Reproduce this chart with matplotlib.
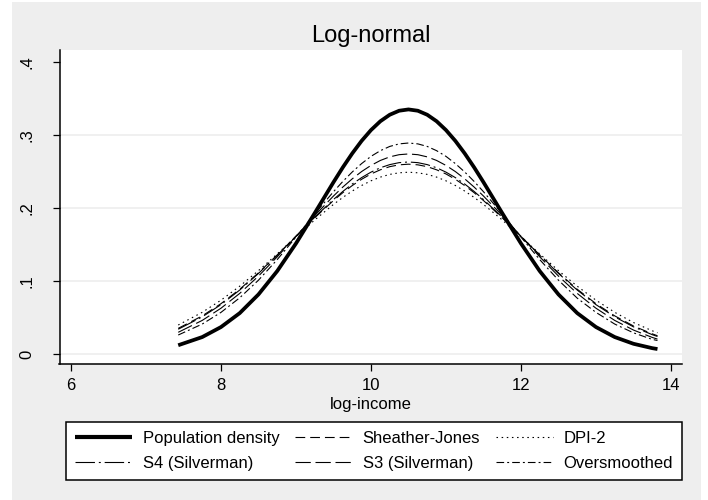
import matplotlib
matplotlib.use("Agg")
import matplotlib.pyplot as plt
from matplotlib.patches import Rectangle

plt.rcParams['font.family'] = ['Liberation Sans', 'DejaVu Sans']
plt.rcParams['lines.scale_dashes'] = False

# ---- data ----
log_income = [7.43, 7.75, 8.0, 8.25, 8.5, 8.75, 9.0, 9.25, 9.5, 9.625, 9.75, 9.875, 10.0, 10.125, 10.25, 10.375, 10.5,
              10.625, 10.75, 10.875, 11.0, 11.125, 11.25, 11.375, 11.5, 11.75, 12.0, 12.25, 12.5, 12.75, 13.0,
              13.25, 13.5, 13.75, 13.82]

population = [0.012, 0.0232, 0.0369, 0.056, 0.0816, 0.1136, 0.1514, 0.193, 0.2353, 0.2557, 0.2747, 0.2919, 0.3067,
              0.3188, 0.3277, 0.3332, 0.335, 0.3332, 0.3277, 0.3188, 0.3067, 0.2919, 0.2747, 0.2557, 0.2353,
              0.193, 0.1514, 0.1136, 0.0816, 0.056, 0.0369, 0.0232, 0.014, 0.008, 0.0068]
sheather_jones = [0.0351, 0.0522, 0.0689, 0.0887, 0.1112, 0.1357, 0.1612, 0.1866, 0.2102, 0.2210, 0.2307, 0.2393,
                  0.2466, 0.2523, 0.2566, 0.2591, 0.26, 0.2591, 0.2566, 0.2523, 0.2466, 0.2393, 0.2307, 0.2210,
                  0.2102, 0.1866, 0.1612, 0.1357, 0.1112, 0.0887, 0.0689, 0.0522, 0.0384, 0.0276, 0.025]
dpi2 = [0.0397, 0.0571, 0.0737, 0.0929, 0.1142, 0.1371, 0.1606, 0.1836, 0.2049, 0.2145, 0.2232, 0.2308, 0.2372,
        0.2423, 0.246, 0.2482, 0.249, 0.2482, 0.246, 0.2423, 0.2372, 0.2308, 0.2232, 0.2145, 0.2049,
        0.1836, 0.1606, 0.1371, 0.1142, 0.0929, 0.0737, 0.0571, 0.0431, 0.0318, 0.0291]
s4_silverman = [0.0339, 0.0509, 0.0676, 0.0876, 0.1103, 0.1352, 0.1613, 0.1873, 0.2116, 0.2227, 0.2328, 0.2416,
                0.2491, 0.2551, 0.2594, 0.2621, 0.263, 0.2621, 0.2594, 0.2551, 0.2491, 0.2416, 0.2328, 0.2227,
                0.2116, 0.1873, 0.1613, 0.1352, 0.1103, 0.0876, 0.0676, 0.0509, 0.0372, 0.0265, 0.024]
s3_silverman = [0.0297, 0.046, 0.0627, 0.083, 0.1067, 0.1331, 0.1612, 0.1896, 0.2164, 0.2287, 0.2399, 0.2499,
                0.2583, 0.2651, 0.27, 0.273, 0.274, 0.273, 0.27, 0.2651, 0.2583, 0.2499, 0.2399, 0.2287,
                0.2164, 0.1896, 0.1612, 0.1331, 0.1067, 0.083, 0.0627, 0.046, 0.0328, 0.0227, 0.0204]
oversmoothed = [0.026, 0.041, 0.057, 0.077, 0.1011, 0.1293, 0.1601, 0.1918, 0.2223, 0.2364, 0.2493, 0.2608,
                0.2707, 0.2785, 0.2843, 0.2878, 0.289, 0.2878, 0.2843, 0.2785, 0.2707, 0.2608, 0.2493, 0.2364,
                0.2223, 0.1918, 0.1601, 0.1293, 0.1011, 0.0765, 0.057, 0.041, 0.029, 0.020, 0.0185]

x_ticks = [6, 8, 10, 12, 14]
x_tick_labels = ["6", "8", "10", "12", "14"]
y_ticks = [0, 0.1, 0.2, 0.3, 0.4]
y_tick_labels = ["0", ".1", ".2", ".3", ".4"]
grid_levels = [0, 0.1, 0.2, 0.3]

W, H = 708, 500
fig = plt.figure(figsize=(W / 100, H / 100), dpi=100)
fig.patch.set_facecolor('white')
fig.patches.append(Rectangle((12 / W, 0), (701 - 12) / W, 498 / H, transform=fig.transFigure,
                             facecolor='#EEEEEE', edgecolor='none', zorder=-10))

ax = fig.add_axes([59.5 / W, 1 - 364 / H, (682 - 59.5) / W, (364 - 50) / H])
ax.set_facecolor('white')

for g in grid_levels:
    ax.axhline(g, color='#ECECEC', lw=1.1, zorder=0)

ax.plot(log_income, sheather_jones, color='black', lw=0.8, dashes=(7, 3.6), label='Sheather-Jones')
ax.plot(log_income, dpi2, color='black', lw=0.8, dashes=(1.1, 2.6), label='DPI-2')
ax.plot(log_income, s4_silverman, color='black', lw=0.8, dashes=(14, 2.8, 1.4, 2.8), label='S4 (Silverman)')
ax.plot(log_income, s3_silverman, color='black', lw=0.8, dashes=(11, 3.4), label='S3 (Silverman)')
ax.plot(log_income, oversmoothed, color='black', lw=0.8, dashes=(5.5, 2.2, 1.4, 2.2), label='Oversmoothed')
ax.plot(log_income, population, color='black', lw=2.7, solid_capstyle='butt', solid_joinstyle='round',
        label='Population density')

ax.set_xlim(5.847, 14.147)
ax.set_ylim(-0.0137, 0.4164)

for s in ['top', 'right']:
    ax.spines[s].set_visible(False)
for s in ['left', 'bottom']:
    ax.spines[s].set_linewidth(1.1)
    ax.spines[s].set_color('black')

ax.set_xticks(x_ticks)
ax.set_xticklabels(x_tick_labels, fontsize=12)
ax.set_yticks(y_ticks)
ax.set_yticklabels(y_tick_labels, fontsize=12, rotation=90, va='center')
ax.tick_params(axis='x', direction='out', length=5, width=0.9, pad=5)
ax.tick_params(axis='y', direction='out', length=5, width=0.9, pad=13)

ax.set_xlabel('log-income', fontsize=12)
ax.xaxis.label.set_va('baseline')
ax.xaxis.set_label_coords(0.5, -(409 - 364) / 314)

ax.set_title('Log-normal', fontsize=17, pad=6)

handles, labels = ax.get_legend_handles_labels()
order = ['Population density', 'Sheather-Jones', 'DPI-2', 'S4 (Silverman)', 'S3 (Silverman)', 'Oversmoothed']
hmap = dict(zip(labels, handles))
# ncol=3 fills column-wise, so reorder to get row-wise reading
col_order = [order[0], order[3], order[1], order[4], order[2], order[5]]
leg = ax.legend([hmap[k] for k in col_order], col_order, ncol=3, fontsize=12,
                loc='upper left', bbox_to_anchor=(66 / W, 1 - 422 / H), bbox_transform=fig.transFigure,
                borderaxespad=0, frameon=True, fancybox=False, framealpha=1, edgecolor='black',
                handlelength=3.4, handletextpad=0.65, columnspacing=0.95, labelspacing=0.58,
                borderpad=0.55)
leg.get_frame().set_linewidth(1.1)
for line in leg.get_lines():
    if line.get_linewidth() > 2:
        line.set_linewidth(3.0)

fig.savefig('out.png', dpi=100)
